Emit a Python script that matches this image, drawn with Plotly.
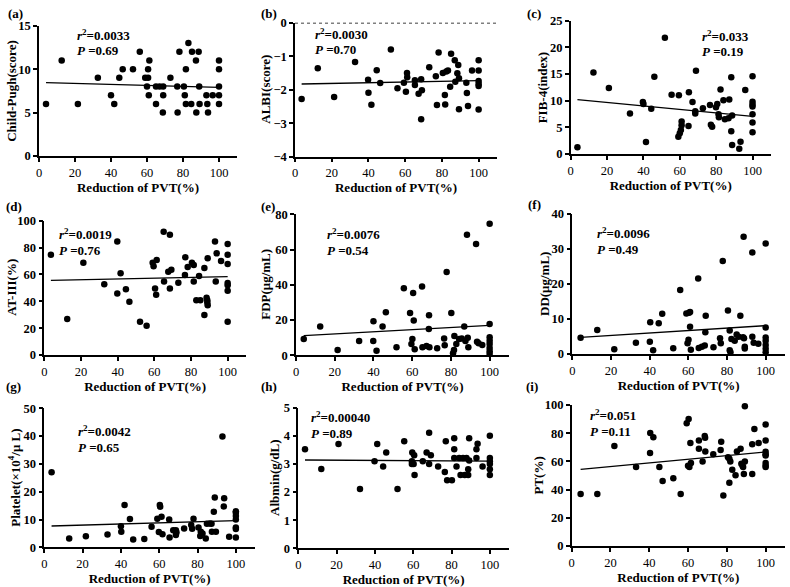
import plotly.graph_objects as go

W, H = 790, 587

# ---------------- data ----------------
a_x = [3.9, 12.6, 21.6, 32.7, 40, 41.8, 44.6, 46.5, 52.2, 56, 59, 60.6, 60, 60.6, 61.3, 61, 65, 65, 67, 69, 69, 68.8, 73, 76.8, 77, 78, 80.5, 81.6, 81, 81.6, 83, 85, 84.6, 87.2, 87.4, 88.7, 89, 89.2, 93, 93.5, 93.9, 96.5, 100, 100, 100, 100, 100]
a_y = [6, 11, 6, 9, 7, 6, 9, 10, 10, 12, 9, 9, 8, 10, 11, 7, 6, 8, 8, 8, 7, 5, 9, 8, 5, 12, 8, 10, 7, 6, 13, 12, 6, 11, 5, 12, 8, 6, 7, 6, 5, 7, 11, 10, 8, 7, 6]

b_x = [3.6, 12.4, 21.3, 32.7, 39.8, 40, 41.6, 44.5, 46.4, 52.2, 55.8, 59.3, 60.4, 61, 61.1, 65.3, 65.3, 67.3, 68.7, 69.1, 68.7, 73.1, 76.7, 77.3, 78.2, 80.5, 81.6, 81.8, 82.4, 83.3, 84.5, 85, 87, 87.3, 88.4, 88.9, 89.3, 89.3, 93.3, 93.6, 94.2, 96.4, 100, 100, 100, 100, 100, 100]
b_y = [-2.28, -1.36, -2.22, -1.17, -1.70, -2.09, -2.45, -1.42, -1.80, -0.80, -1.96, -1.79, -2.06, -1.50, -1.63, -1.72, -1.86, -2.12, -1.69, -2.02, -2.88, -1.33, -1.60, -2.46, -0.89, -1.50, -2.16, -2.44, -1.46, -1.43, -1.91, -0.93, -1.12, -1.76, -1.51, -1.26, -1.66, -2.58, -1.79, -2.10, -2.49, -1.43, -1.12, -1.43, -1.74, -1.83, -1.89, -2.59]

c_x = [3.7, 12.5, 21, 32.6, 39.7, 40, 41.4, 44.3, 46, 51.8, 55.5, 59.2, 59.5, 60, 60.6, 61, 61, 64.8, 65, 67, 68.5, 68.5, 68.9, 72.7, 76.6, 77.1, 77.8, 79.9, 80.6, 81.3, 81.5, 82.4, 84, 84.8, 86.8, 87.2, 88.3, 88.3, 88.8, 88.8, 92.7, 93.4, 96, 100, 100, 100, 100, 100, 100, 100]
c_y = [1.25, 15.3, 12.4, 7.6, 9.75, 9.4, 2.25, 8.5, 14.5, 21.8, 11.1, 3.25, 11, 3.9, 4.5, 6.1, 5.4, 5.25, 11.6, 9.75, 7.6, 8.0, 15.6, 8.6, 9.2, 5.5, 5.1, 8.75, 9.4, 7.45, 6.9, 12.1, 10.1, 6.5, 6.7, 10.2, 4.25, 14.4, 7.2, 1.7, 1.0, 2.3, 12, 14.6, 9.8, 9.3, 8.9, 7.45, 5.9, 4.1]

d_x = [3.6, 12.5, 21.3, 32.7, 39.8, 39.8, 41.6, 44.5, 46.4, 52.2, 55.8, 59.1, 59.6, 60.4, 61.3, 61, 65.1, 65.3, 67.6, 68.5, 68.5, 69.3, 73.1, 76.9, 76.7, 78.2, 80.5, 81.5, 81.5, 82.9, 84.4, 85.1, 87.3, 87.3, 88.5, 88.9, 88.9, 89.1, 89.1, 93.1, 93.5, 94, 96.4, 100, 100, 100, 100, 100, 100, 100]
d_y = [74.7, 26.8, 68.7, 52.6, 84.6, 45.7, 60.8, 48.9, 39.7, 24.8, 21.8, 68.7, 66, 49.6, 70.7, 44.9, 91.8, 54.8, 62, 89.6, 49.6, 63.5, 53.8, 72.7, 59.6, 65.5, 68.7, 67, 54.8, 40.7, 58.8, 40.7, 64.8, 29.8, 42.7, 40.7, 39, 37, 72, 84.6, 54.8, 75.7, 70, 82.6, 74.7, 67.7, 53.6, 51.9, 47.9, 24.8]

e_x = [4, 12.5, 21.5, 32.6, 39.9, 40, 41.6, 44.7, 46.4, 51.9, 55.7, 58.9, 59.6, 60.1, 60.5, 60.8, 61.3, 65.1, 65.3, 67.4, 68.7, 68.6, 68.9, 72.9, 76.5, 76.8, 77.8, 80.2, 81.1, 81.6, 81.8, 82.8, 84.2, 85.6, 86.9, 87.5, 88.3, 88.7, 89, 93, 93.5, 94.3, 96.2, 100, 100, 100, 100, 100, 100, 100, 100]
e_y = [9.3, 16.4, 3.0, 8.1, 8.1, 19.3, 2.6, 16.3, 24.4, 4.5, 38, 24, 6.4, 9.3, 35.4, 19.7, 3.4, 39.1, 4.5, 5.3, 22.7, 14.9, 4.5, 4.0, 9.5, 5.7, 47.3, 24, 1.1, 3.0, 11, 6.4, 9.3, 9.5, 16.3, 8.1, 68.4, 10, 4.5, 63.1, 7.75, 6.8, 5.9, 74.7, 17.8, 10.2, 8.3, 6.4, 4.2, 2.3, 0.8]

f_x = [4.3, 12.9, 21.7, 32.9, 40.3, 40.1, 41.8, 44.7, 46.5, 52.2, 55.8, 59, 59.6, 60.1, 60.4, 60.9, 60.9, 61.3, 65.1, 65.4, 67, 68.5, 68.8, 69, 73, 76.4, 76.8, 77.8, 80.5, 81.4, 81.8, 81.4, 82.3, 84, 85, 86, 86.9, 88.3, 88.6, 88.8, 89.2, 89.2, 93.1, 93.1, 93.8, 96.2, 100, 100, 100, 100, 100, 100, 100]
f_y = [4.67, 6.86, 1.33, 3.24, 9.05, 3.52, 1.05, 8.76, 11.5, 1.62, 18.3, 11.6, 3.05, 4.1, 11.8, 12, 7.8, 1.24, 21.6, 1.7, 2.1, 2.4, 6.2, 10.9, 1.9, 4.5, 3.05, 26.6, 12.4, 1.05, 0.5, 6.7, 4.3, 3.8, 5.6, 4.95, 10.9, 4.8, 33.5, 4.5, 2.1, 1.6, 4.95, 29, 3.24, 2.9, 31.6, 7.6, 4.7, 3.8, 2.6, 1.5, 0.5]

g_x = [3.8, 13, 21.7, 33, 40, 40.2, 41.9, 44.7, 46.4, 52.2, 56, 59, 59.8, 60.3, 60.5, 61.2, 61.7, 65.2, 65.4, 67.3, 68.7, 68.7, 69, 73, 76.7, 77.2, 77.9, 80.5, 81.4, 81.7, 82.6, 84.3, 84.9, 86.4, 87.3, 87.5, 88.5, 89, 89.6, 93, 93.7, 93.9, 96.5, 100, 100, 100, 100, 100, 100, 100]
g_y = [27, 3.2, 4.0, 4.6, 7.6, 5.6, 15.2, 10.2, 2.8, 3.0, 7.4, 10.3, 5.5, 15.2, 14.6, 11, 4.7, 10, 3.5, 6.1, 6.1, 4.4, 5.3, 6.8, 8, 6.7, 10.3, 7.1, 4.1, 5.6, 5.0, 3.2, 8.5, 8.6, 8.5, 5.6, 12.8, 17.9, 5.6, 39.9, 14.7, 17.6, 3.8, 13, 12.4, 11.3, 10, 7.1, 6.6, 3.5]

h_x = [3.5, 12, 21, 32.2, 39.8, 41.2, 44.3, 45.9, 51.8, 55.3, 59.5, 59.3, 59.3, 60.2, 60.5, 60.7, 65, 67, 68.3, 68.3, 69.2, 73, 76.5, 77, 77.7, 80.2, 81.4, 81.4, 81.4, 82.6, 84, 84.7, 86, 86.9, 87.8, 88.7, 88.7, 89.2, 89.2, 93, 93.6, 93, 96.2, 100, 100, 100, 100, 100, 100]
h_y = [3.52, 2.82, 3.71, 2.11, 3.10, 3.71, 2.91, 3.41, 2.11, 3.81, 3.41, 3.10, 3.0, 3.0, 3.31, 2.61, 3.1, 3.41, 4.11, 3.0, 3.31, 2.91, 2.71, 3.81, 2.42, 2.42, 3.52, 3.91, 3.21, 2.91, 3.21, 2.61, 3.21, 2.61, 3.21, 2.81, 2.61, 3.91, 3.12, 3.52, 3.72, 3.21, 2.91, 4.0, 3.21, 3.1, 3.0, 2.81, 2.61]

i_x = [4.6, 13.2, 22, 33.2, 40.4, 40.5, 42.1, 45.2, 46.9, 52.4, 56.2, 59.3, 60, 60.3, 60.7, 61.2, 61.5, 65.6, 65.6, 67.5, 68.6, 68.8, 68.9, 73, 76.8, 77.1, 78.2, 80.6, 81.3, 81.8, 81.3, 82.8, 84.5, 85.2, 87.1, 87.5, 88.1, 88.4, 88.8, 89.3, 89.3, 93.1, 93.1, 94.2, 96.4, 100, 100, 100, 100, 100, 100, 100, 100]
i_y = [36.9, 36.9, 70.9, 56, 66, 80.1, 77.1, 56, 46.1, 48, 36.9, 87, 57, 90.1, 56, 73, 58.9, 74.9, 69, 60, 78, 76.8, 67.1, 65, 68.1, 74, 35.9, 62.9, 61.9, 60, 44.9, 54.1, 50.1, 67.1, 69, 58.4, 57, 56, 51.1, 99.1, 60, 51.1, 72.1, 83, 73, 86.1, 74.9, 66.9, 65, 64.1, 58.9, 57, 56]

# regression lines (end points)
fit_x = {"a": [3.9, 100], "b": [3.6, 100], "c": [3.7, 100], "d": [3.6, 100], "e": [4, 100],
         "f": [4.3, 100], "g": [3.8, 100], "h": [3.5, 100], "i": [4.6, 100]}
fit_y = {"a": [8.45, 7.9], "b": [-1.83, -1.73], "c": [10.2, 7.06], "d": [55.6, 58.3], "e": [11.2, 17.0],
         "f": [4.76, 8.1], "g": [7.67, 9.6], "h": [3.14, 3.10], "i": [54.4, 66.7]}

y_titles = {"a": "Child-Pugh(score)", "b": "ALBI(score)", "c": "FIB-4(index)", "d": "AT-III(%)",
            "e": "FDP(μg/mL)", "f": "DD(μg/mL)", "g": "Platelet(×10<sup>4</sup>/μ L)",
            "h": "Albmin(g/dL)", "i": "PT(%)"}
y_ranges = {"a": [0, 15], "b": [-4, 0], "c": [0, 25], "d": [0, 100], "e": [0, 80],
            "f": [0, 40], "g": [0, 50], "h": [0, 5], "i": [0, 100]}
y_dticks = {"a": 5, "b": 1, "c": 5, "d": 20, "e": 20, "f": 10, "g": 10, "h": 1, "i": 20}
r2_text = {"a": "0.0033", "b": "0.0030", "c": "0.033", "d": "0.0019", "e": "0.0076",
           "f": "0.0096", "g": "0.0042", "h": "0.00040", "i": "0.051"}
p_text = {"a": "0.69", "b": "0.70", "c": "0.19", "d": "0.76", "e": "0.54",
          "f": "0.49", "g": "0.65", "h": "0.89", "i": "0.11"}
x_ticks = [0, 20, 40, 60, 80, 100]
x_title = "Reduction of PVT(%)"

pts = {"a": (a_x, a_y), "b": (b_x, b_y), "c": (c_x, c_y), "d": (d_x, d_y), "e": (e_x, e_y),
       "f": (f_x, f_y), "g": (g_x, g_y), "h": (h_x, h_y), "i": (i_x, i_y)}

# ---------------- layout (pixel boxes) ----------------
boxes = {  # left, right, top, bottom in pixels
    "a": (39, 237, 25.7, 156), "b": (295, 497, 22.7, 156.7), "c": (570.7, 770.7, 20.7, 154),
    "d": (44.3, 246, 220.7, 355), "e": (296, 509, 214.3, 355.3), "f": (572.3, 785, 214, 354),
    "g": (44.3, 255, 408.3, 547.3), "h": (298.3, 509, 407.7, 548.3), "i": (571.7, 785, 405, 546),
}
stat_pos = {"a": (75, 35), "b": (313, 34), "c": (700, 36), "d": (57, 234), "e": (325, 234),
            "f": (595, 233), "g": (76, 431), "h": (309, 417), "i": (588, 415)}
label_pos = {"a": (6, 13), "b": (259, 13), "c": (525, 13), "d": (4, 206), "e": (259, 206),
             "f": (526, 205), "g": (4, 386), "h": (259, 386), "i": (524, 386)}
ytitle_x = {"a": 12, "b": 266, "c": 542, "d": 12, "e": 266, "f": 545, "g": 14, "h": 274, "i": 538}

FONT = "Liberation Serif"
fig = go.Figure()
layout = dict(width=W, height=H, margin=dict(l=0, r=0, t=0, b=0, autoexpand=False), plot_bgcolor="white",
              paper_bgcolor="white", showlegend=False, font=dict(family=FONT, color="black"))
annotations = []
shapes = []

for k, key in enumerate("abcdefghi"):
    n = "" if k == 0 else str(k + 1)
    L, R, T, B = boxes[key]
    xs, ys = pts[key]
    fig.add_trace(go.Scatter(x=xs, y=ys, mode="markers", xaxis="x" + n, yaxis="y" + n,
                             marker=dict(color="black", size=6.5), cliponaxis=False))
    fig.add_trace(go.Scatter(x=fit_x[key], y=fit_y[key], mode="lines", xaxis="x" + n, yaxis="y" + n,
                             line=dict(color="black", width=1.3), cliponaxis=False))
    axcommon = dict(showline=True, linecolor="black", linewidth=1.5, ticks="outside", ticklen=4,
                    tickwidth=1.5, tickcolor="black", showgrid=False, zeroline=False, automargin=False,
                    tickfont=dict(family=FONT, size=12.5, color="black"))
    layout["xaxis" + n] = dict(domain=[L / W, R / W], range=[0, 110], tickvals=x_ticks,
                               anchor="y" + n, title=dict(text="<b>" + x_title + "</b>",
                               font=dict(family=FONT, size=13), standoff=1),
                               tickprefix="<b>", ticksuffix="</b>", **axcommon)
    layout["yaxis" + n] = dict(domain=[1 - B / H, 1 - T / H], range=y_ranges[key], dtick=y_dticks[key],
                               anchor="x" + n, tickprefix="<b>", ticksuffix="</b>", **axcommon)
    annotations.append(dict(x=ytitle_x[key] / W, y=1 - (T + B) / 2 / H, xref="paper", yref="paper",
                            xanchor="center", yanchor="middle", textangle=-90, showarrow=False,
                            text="<b>" + y_titles[key] + "</b>",
                            font=dict(family=FONT, size=13, color="black")))
    sx, sy = stat_pos[key]
    annotations.append(dict(x=sx / W, y=1 - sy / H, xref="paper", yref="paper", xanchor="left",
                            yanchor="middle", showarrow=False,
                            text="<b><i>r</i><sup>2</sup>=" + r2_text[key] + "</b>",
                            font=dict(family=FONT, size=13, color="black")))
    annotations.append(dict(x=sx / W, y=1 - (sy + 16) / H, xref="paper", yref="paper", xanchor="left",
                            yanchor="middle", showarrow=False,
                            text="<b><i>P</i> =" + p_text[key] + "</b>",
                            font=dict(family=FONT, size=13, color="black")))
    lx, ly = label_pos[key]
    annotations.append(dict(x=lx / W, y=1 - ly / H, xref="paper", yref="paper", xanchor="left",
                            yanchor="middle", showarrow=False, text="<b>(" + key + ")</b>",
                            font=dict(family=FONT, size=13, color="black")))

shapes.append(dict(type="line", xref="x2 domain", yref="y2", x0=0, x1=1, y0=0, y1=0,
                   line=dict(color="black", width=1.5, dash="dot")))
layout["annotations"] = annotations
layout["shapes"] = shapes
fig.update_layout(**layout)
fig.write_html("out.html", config={"displayModeBar": False},
               post_script="document.body.style.margin='0';document.body.style.padding='0';")
